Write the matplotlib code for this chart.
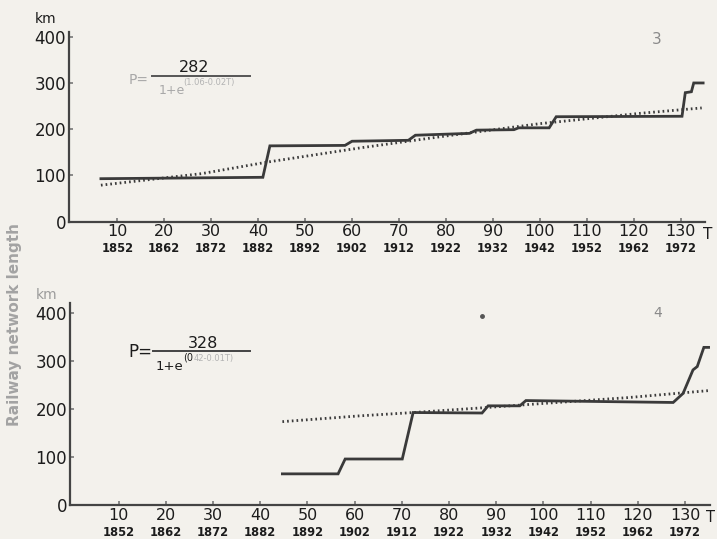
import matplotlib
matplotlib.use("Agg")
import matplotlib.pyplot as plt
from matplotlib.lines import Line2D

W, H = 717, 539

# Axis ticks: time index T and the corresponding calendar year
t_ticks = [10, 20, 30, 40, 50, 60, 70, 80, 90, 100, 110, 120, 130]
year_labels = ["1852", "1862", "1872", "1882", "1892", "1902", "1912",
               "1922", "1932", "1942", "1952", "1962", "1972"]
km_ticks = [0, 100, 200, 300, 400]

# Network 3: observed network length (step profile) and logistic fit
net3_t = [6.5, 41, 42.5, 58.5, 60, 72, 73.5, 85, 86.5, 94.5, 95.5, 102, 103.5,
          130.3, 131, 132.3, 132.8, 134.8]
net3_km = [93, 96, 164, 165, 174, 176, 187, 191, 198, 199, 203, 203, 227,
           228, 279, 281, 300, 300]
fit3_t = [6.5, 28, 42, 62, 79, 100, 121, 134.5]
fit3_km = [79, 104, 129, 160, 184, 212, 234, 246]

# Network 4: observed network length and logistic fit
net4_t = [44.7, 56.5, 58, 70.1, 72.4, 87, 88.3, 95, 96.3, 127.5, 129.6,
          131.7, 132.6, 134, 135]
net4_km = [65, 65, 96, 96, 193, 192, 207, 207, 218, 214, 233, 282, 289,
           329, 329]
fit4_t = [44.7, 61, 72.4, 87.3, 100, 117.7, 135.3]
fit4_km = [174, 186, 193, 203, 212, 224, 239]

BG = "#f3f1ec"
INK = "#1c1c1c"
LINE = "#3a3a3a"
GREY = "#9c9c9c"

fig = plt.figure(figsize=(W / 100, H / 100), dpi=100, facecolor=BG)


def fx(x):
    return x / W


def fy(y):
    return 1 - y / H


def style_axes(ax, ymax, xmax):
    ax.set_facecolor(BG)
    for side in ("top", "right"):
        ax.spines[side].set_visible(False)
    for side in ("left", "bottom"):
        ax.spines[side].set_color("#444444")
        ax.spines[side].set_linewidth(1.6)
    ax.set_xlim(-0.3, xmax)
    ax.set_ylim(0, ymax)
    ax.set_yticks(km_ticks)
    ax.set_yticklabels([str(v) for v in km_ticks], fontsize=12, color=INK)
    ax.set_xticks(t_ticks)
    ax.set_xticklabels([str(v) for v in t_ticks], fontsize=11.5, color=INK)
    ax.tick_params(axis="both", direction="in", length=3, width=1.2,
                   color="#777777")
    ax.tick_params(axis="x", pad=2)
    ax.tick_params(axis="y", pad=2)
    for t, yr in zip(t_ticks, year_labels):
        ax.annotate(yr, xy=(t, 0), xycoords=("data", "axes fraction"),
                    xytext=(0, -19.5), textcoords="offset points",
                    ha="center", va="center", fontsize=8.3,
                    fontweight="bold", color=INK)


def plot_series(ax, ft, fk, st, sk):
    ax.plot(ft, fk, color=LINE, lw=2.0, linestyle=(0, (0.6, 1.1)),
            dash_capstyle="butt", zorder=2)
    ax.plot(st, sk, color=LINE, lw=2.0, solid_joinstyle="miter", zorder=3)


# upper panel
ax1 = fig.add_axes([fx(69), 1 - 221.7 / H, fx(636), 189.6 / H])
style_axes(ax1, 410, 135.2)
plot_series(ax1, fit3_t, fit3_km, net3_t, net3_km)

# lower panel
ax2 = fig.add_axes([fx(70), 1 - 505 / H, fx(640), 201.7 / H])
style_axes(ax2, 421, 135.3)
plot_series(ax2, fit4_t, fit4_km, net4_t, net4_km)

# units, axis names and panel numbers
fig.text(fx(46), fy(19), "km", ha="center", va="center", fontsize=10, color=INK)
fig.text(fx(47), fy(295), "km", ha="center", va="center", fontsize=10, color=GREY)
fig.text(fx(708), fy(235), "T", ha="center", va="center", fontsize=11, color=INK)
fig.text(fx(711), fy(518), "T", ha="center", va="center", fontsize=10.5, color=INK)
fig.text(fx(15), fy(324), "Railway network length", rotation=90,
         ha="center", va="center", fontsize=11, fontweight="bold",
         color="#a3a3a3")
fig.text(fx(657), fy(39), "3", ha="center", va="center", fontsize=11,
         color="#8a8a8a")
fig.text(fx(658), fy(313), "4", ha="center", va="center", fontsize=10,
         color="#8a8a8a")
fig.add_artist(Line2D([fx(482)], [fy(316)], marker="o", markersize=2.5,
                      color="#555555", linestyle="none"))

# logistic formula, upper panel
fig.text(fx(139), fy(80), "P=", ha="center", va="center", fontsize=10,
         color="#a8a8a8")
fig.add_artist(Line2D([fx(152), fx(250)], [fy(76), fy(76)], color="#555555",
                      lw=1.4))
fig.text(fx(194), fy(68), "282", ha="center", va="center", fontsize=11.5,
         color=INK)
fig.text(fx(172), fy(91), "1+e", ha="center", va="center", fontsize=9,
         color="#a8a8a8")
fig.text(fx(183), fy(83), "(1.06-0.02T)", ha="left", va="center", fontsize=6,
         color="#b3b3b3")

# logistic formula, lower panel
fig.text(fx(140), fy(352), "P=", ha="center", va="center", fontsize=12,
         color=INK)
fig.add_artist(Line2D([fx(153), fx(250)], [fy(350.5), fy(350.5)],
                      color="#444444", lw=1.4))
fig.text(fx(203), fy(343), "328", ha="center", va="center", fontsize=11.5,
         color=INK)
fig.text(fx(169), fy(367), "1+e", ha="center", va="center", fontsize=9.5,
         color=INK)
fig.text(fx(183), fy(358), "(0", ha="left", va="center", fontsize=7,
         color=INK)
fig.text(fx(194), fy(359), "42-0.01T)", ha="left", va="center", fontsize=6,
         color="#b3b3b3")

fig.savefig("out.png", dpi=100, facecolor=BG)
